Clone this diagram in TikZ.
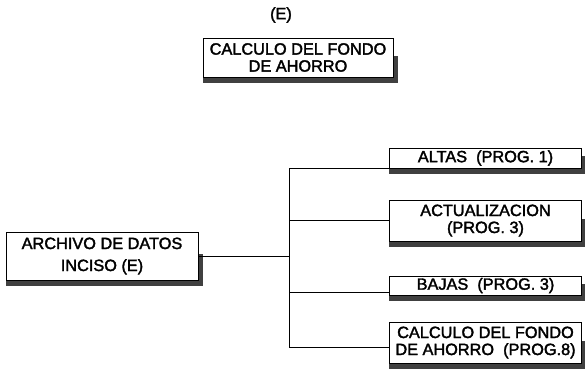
\documentclass[tikz,border=0pt]{standalone}
\usepackage{fontspec}
\setmainfont{Liberation Sans}
\newfontfamily\letracaja{Liberation Sans}[FakeBold=2]
\usetikzlibrary{positioning}

\begin{document}
\begin{tikzpicture}[x=1pt,y=-1pt,node distance=2cm,on grid,
    caja/.style={draw, line width=0.9pt, fill=white, minimum width=192pt,
      minimum height=20pt, inner sep=1pt, align=center,
      font=\letracaja\fontsize{16.3}{17}\selectfont},
    sombra/.style={fill=black!75},
    linea/.style={line width=0.9pt}]
  \useasboundingbox (0,0) rectangle (585,370);

  \node[caja, minimum height=48pt, font=\letracaja\fontsize{16.3}{22}\selectfont] (archivo) at (102,256) {ARCHIVO DE DATOS\\INCISO (E)};
  \node[caja, minimum width=190pt, minimum height=39pt] (fondo) [above right=198.5pt and 196pt of archivo] {CALCULO DEL FONDO\\DE AHORRO};
  \node[font=\letracaja\fontsize{16.3}{17}\selectfont] (e) [above left=42.5pt and 17pt of fondo] {(E)};

  \node[caja] (altas) [above right=98pt and 383.5pt of archivo] {ALTAS~~(PROG. 1)};
  \node[caja, minimum height=41pt] (actual) [below=62.5pt of altas] {ACTUALIZACION\\(PROG. 3)};
  \node[caja, minimum height=19pt] (bajas) [below=65pt of actual] {BAJAS~~(PROG. 3)};
  \node[caja, minimum height=41pt] (calculo) [below=57pt of bajas] {CALCULO DEL FONDO\\DE AHORRO~~(PROG.8)};

  % sombras
  \foreach \n in {archivo,fondo,altas,actual,bajas,calculo} {
    \fill[sombra] ([yshift=-0.45pt]\n.south west) rectangle ([xshift=5pt,yshift=-6pt]\n.south east);
    \fill[sombra] ([xshift=0.45pt,yshift=2pt]\n.east) rectangle ([xshift=5pt,yshift=-6pt]\n.south east);
  }

  % lineas
  \coordinate (bus) at ([xshift=91pt]archivo.east);
  \coordinate (b1) at ([yshift=-7pt]bajas.west);
  \coordinate (c1) at ([yshift=-4.5pt]calculo.west);

  \draw[linea] (archivo.east) -- (bus);
  \draw[linea] (altas.south west) -| (bus) |- (c1);
  \draw[linea] (bus |- actual.west) -- (actual.west);
  \draw[linea] (bus |- b1) -- (b1);
\end{tikzpicture}
\end{document}
